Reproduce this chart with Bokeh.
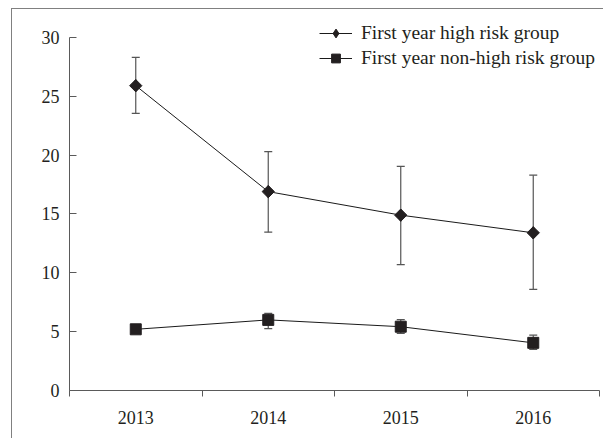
from bokeh.plotting import figure
from bokeh.models import (ColumnDataSource, Range1d, FixedTicker, Whisker, TeeHead,
                          Legend, LegendItem)
from bokeh.embed import file_html
from bokeh.resources import INLINE
import math

years = ["2013", "2014", "2015", "2016"]
high_mean = [25.9, 16.9, 14.9, 13.4]
high_upper = [28.3, 20.3, 19.05, 18.3]
high_lower = [23.55, 13.45, 10.7, 8.6]
non_mean = [5.2, 6.0, 5.42, 4.05]
non_upper = [5.5, 6.55, 6.03, 4.7]
non_lower = [4.9, 5.25, 4.85, 3.5]
y_ticks = [0, 5, 10, 15, 20, 25, 30]
label_high = "First year high risk group"
label_non = "First year non-high risk group"

xs = [i + 0.5 for i in range(len(years))]
bounds_ticks = [i for i in range(len(years) + 1)]

FONT = "Liberation Serif"
TXT = "#231f20"
AX = "#5a5a5a"
MK = "#231f20"
LN = "#1a1a1a"

p = figure(width=603, height=438, output_backend="svg", toolbar_location=None,
           x_range=Range1d(0, len(years)), y_range=Range1d(0, 31.61),
           min_border_left=69, min_border_right=4, min_border_top=18,
           min_border_bottom=48)
p.background_fill_alpha = 0
p.border_fill_alpha = 0
p.outline_line_color = None
p.grid.visible = False
p.styles = {
    "background": "linear-gradient(#808080,#808080) 11px 8px / 1px 100% no-repeat, "
                  "linear-gradient(#808080,#808080) 11px 8px / 100% 1px no-repeat, white"
}

src_h = ColumnDataSource(dict(x=xs, y=high_mean, up=high_upper, lo=high_lower))
src_n = ColumnDataSource(dict(x=xs, y=non_mean, up=non_upper, lo=non_lower))

for src in (src_h, src_n):
    w = Whisker(source=src, base="x", upper="up", lower="lo",
                line_color="#555555", line_width=1.2,
                upper_head=TeeHead(size=8, line_color="#555555", line_width=1.2),
                lower_head=TeeHead(size=8, line_color="#555555", line_width=1.2))
    p.add_layout(w)

l1 = p.line("x", "y", source=src_h, line_color=LN, line_width=1)
# diamond marker (used for the legend glyph), covered by the equal-sided diamond below
d1 = p.scatter("x", "y", source=src_h, marker="diamond", size=12,
               fill_color=MK, line_color=MK)
p.scatter("x", "y", source=src_h, marker="square", angle=math.pi / 4, size=8.7,
          fill_color=MK, line_color=MK)
l2 = p.line("x", "y", source=src_n, line_color=LN, line_width=1)
s2 = p.scatter("x", "y", source=src_n, marker="square", size=11,
               fill_color=MK, line_color=MK)

legend = Legend(items=[LegendItem(label=label_high, renderers=[l1, d1]),
                       LegendItem(label=label_non, renderers=[l2, s2])],
                location="top_right", margin=4, padding=0, spacing=3,
                glyph_width=33, glyph_height=22, label_standoff=9,
                label_text_font=FONT, label_text_font_size="19.5px",
                label_text_color=TXT, border_line_color=None,
                background_fill_alpha=0)
p.add_layout(legend)

xa = p.xaxis[0]
xa.ticker = FixedTicker(ticks=xs, minor_ticks=bounds_ticks)
xa.major_label_overrides = {x: y for x, y in zip(xs, years)}
xa.major_tick_in = 0
xa.major_tick_out = 0
xa.minor_tick_in = 0
xa.minor_tick_out = 6
xa.minor_tick_line_color = AX
xa.axis_line_color = AX
xa.major_label_standoff = 14
xa.major_label_text_font = FONT
xa.major_label_text_font_size = "18px"
xa.major_label_text_color = TXT

ya = p.yaxis[0]
ya.ticker = FixedTicker(ticks=y_ticks, minor_ticks=[])
ya.bounds = (0, 30)
ya.major_tick_in = 7
ya.major_tick_out = 0
ya.minor_tick_in = 0
ya.minor_tick_out = 0
ya.major_tick_line_color = AX
ya.axis_line_color = AX
ya.major_label_standoff = 10
ya.major_label_text_font = FONT
ya.major_label_text_font_size = "18px"
ya.major_label_text_color = TXT

open("out.html", "w").write(file_html(p, INLINE))
